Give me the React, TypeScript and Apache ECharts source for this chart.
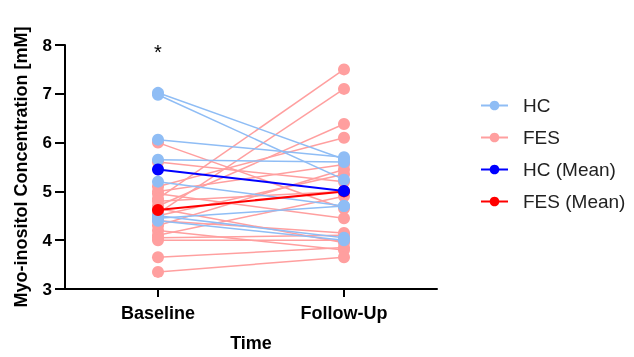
import React, { useEffect, useRef } from "react";
import * as echarts from "echarts";

const timePoints = ["Baseline", "Follow-Up"];
const hcBaseline = [7.02, 6.98, 6.06, 5.65, 5.2, 4.5, 4.45, 4.4];
const hcFollowUp = [5.66, 5.24, 5.7, 5.6, 4.7, 4.05, 4.7, 4.0];
const fesBaseline = [6.0, 5.6, 5.1, 5.0, 4.95, 4.85, 4.8, 4.7, 4.65, 4.55, 4.5, 4.4, 4.3, 4.2, 4.1, 4.05, 4.0, 3.65, 3.35];
const fesFollowUp = [4.65, 5.2, 6.1, 5.55, 4.45, 7.5, 5.0, 6.38, 3.95, 7.1, 5.35, 4.15, 5.45, 3.8, 4.9, 4.1, 4.0, 3.85, 3.65];
const hcMean = [5.45, 5.01];
const fesMean = [4.62, 5.0];
const yTicks = { min: 3, max: 8, interval: 1 };

const HC_COLOR = "#8FBDF5";
const FES_COLOR = "#FF9F9F";
const FONT = "Liberation Sans, Arial, sans-serif";

export default function App() {
  const ref = useRef<HTMLDivElement>(null);
  useEffect(() => {
    if (!ref.current) return;
    document.body.style.margin = "0";
    const chart = echarts.init(ref.current, null, { renderer: "svg" });
    const series: any[] = [];
    fesBaseline.forEach((b, i) => {
      series.push({
        name: "FES",
        type: "line",
        data: [b, fesFollowUp[i]],
        symbol: "circle",
        symbolSize: 12,
        color: FES_COLOR,
        lineStyle: { width: 1.5, color: FES_COLOR },
        itemStyle: { color: FES_COLOR },
        z: 2,
      });
    });
    hcBaseline.forEach((b, i) => {
      series.push({
        name: "HC",
        type: "line",
        data: [b, hcFollowUp[i]],
        symbol: "circle",
        symbolSize: 12,
        color: HC_COLOR,
        lineStyle: { width: 1.5, color: HC_COLOR },
        itemStyle: { color: HC_COLOR },
        z: 3,
      });
    });
    series.push({
      name: "FES (Mean)",
      type: "line",
      data: fesMean,
      symbol: "circle",
      symbolSize: 12,
      color: "#FF0000",
      lineStyle: { width: 2, color: "#FF0000" },
      itemStyle: { color: "#FF0000" },
      z: 4,
    });
    series.push({
      name: "HC (Mean)",
      type: "line",
      data: hcMean,
      symbol: "circle",
      symbolSize: 12,
      color: "#0000FF",
      lineStyle: { width: 2, color: "#0000FF" },
      itemStyle: { color: "#0000FF" },
      z: 5,
    });

    chart.setOption({
      animation: false,
      textStyle: { fontFamily: FONT },
      grid: { left: 65, top: 45, right: 197, bottom: 62, containLabel: false },
      legend: {
        data: ["HC", "FES", "HC (Mean)", "FES (Mean)"],
        orient: "vertical",
        left: 480,
        top: 96,
        padding: 0,
        itemWidth: 27,
        itemHeight: 12,
        itemGap: 13,
        textStyle: { fontSize: 19, color: "#222", fontFamily: FONT, padding: [0, 0, 0, 10] },
      },
      xAxis: {
        type: "category",
        data: timePoints,
        boundaryGap: true,
        name: "Time",
        nameLocation: "middle",
        nameGap: 45,
        nameTextStyle: { fontSize: 18, fontWeight: "bold", color: "#000", fontFamily: FONT },
        axisLine: { show: true, lineStyle: { color: "#000", width: 2 } },
        axisTick: { show: true, alignWithLabel: true, length: 8, lineStyle: { color: "#000", width: 2 } },
        axisLabel: { fontSize: 18, fontWeight: "bold", color: "#000", margin: 15, fontFamily: FONT },
        splitLine: { show: false },
      },
      yAxis: {
        type: "value",
        min: yTicks.min,
        max: yTicks.max,
        interval: yTicks.interval,
        name: "Myo-inositol Concentration [mM]",
        nameLocation: "middle",
        nameGap: 35,
        nameRotate: 90,
        nameTextStyle: { fontSize: 18, fontWeight: "bold", color: "#000", fontFamily: FONT },
        axisLine: { show: true, lineStyle: { color: "#000", width: 2 } },
        axisTick: { show: true, length: 10, lineStyle: { color: "#000", width: 2 } },
        axisLabel: { fontSize: 17, fontWeight: "bold", color: "#000", margin: 13, fontFamily: FONT },
        splitLine: { show: false },
      },
      graphic: [
        {
          type: "text",
          x: 158,
          y: 52,
          style: { text: "*", fontSize: 20, fill: "#000", align: "center", verticalAlign: "middle", fontFamily: FONT },
        },
      ],
      series,
    });
    return () => chart.dispose();
  }, []);
  return <div ref={ref} style={{ position: "fixed", left: 0, top: 0, width: 634, height: 357 }} />;
}
